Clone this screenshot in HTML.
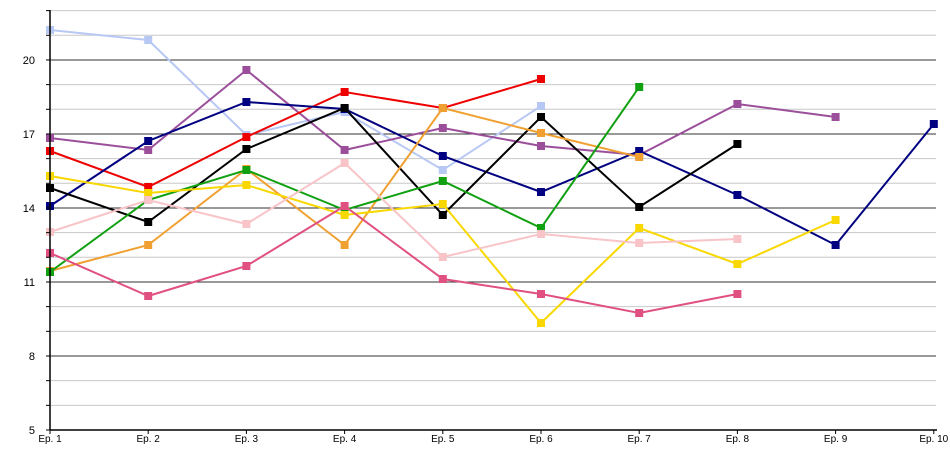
<!DOCTYPE html>
<html><head><meta charset="utf-8"><style>
html,body{margin:0;padding:0;background:#fff;}
svg{display:block;font-family:"Liberation Sans",sans-serif;}
</style></head><body>
<svg width="950" height="450" viewBox="0 0 950 450" xmlns="http://www.w3.org/2000/svg">
<g id="grid"></g>
<g id="series"></g>
<g id="axes"></g>
<script>
(function(){
var NS="http://www.w3.org/2000/svg";
function el(p,t,a,txt){var e=document.createElementNS(NS,t);for(var k in a)e.setAttribute(k,a[k]);if(txt!==undefined)e.textContent=txt;document.getElementById(p).appendChild(e);return e;}
var X0=50,DX=98.2,Y0=430,DY=24.67;
for(var k=0;k<=17;k++){var y=Y0-k*DY;if(y<9)break;var maj=(k%3==0);
 if(k>0)el("grid","line",{x1:50,x2:936,y1:y,y2:y,stroke:maj?"#333":"#c8c8c8","stroke-width":1});
 el("axes","line",{x1:46,x2:50,y1:y,y2:y,stroke:"#000"});
 if(maj)el("axes","text",{x:35,y:y+4,"font-size":"11","text-anchor":"end",fill:"#000"},String(5+k));}
el("axes","line",{x1:50,x2:50,y1:10,y2:430,stroke:"#000","stroke-width":1.5});
el("axes","line",{x1:50,x2:937,y1:430,y2:430,stroke:"#000","stroke-width":1.5});
for(var i=0;i<10;i++){var x=X0+i*DX;el("axes","line",{x1:x,x2:x,y1:430,y2:434,stroke:"#000"});
 el("axes","text",{x:x,y:442,"font-size":"10","text-anchor":"middle",fill:"#000"},"Ep. "+(i+1));}
var S=[
["#b8c8f4",[30,40,135,112,170,106]],
["#9b4f9b",[138,150,70,150,128,146,155,104,117]],
["#ee0000",[151,187,137,92,108,79]],
["#000080",[206,141,102,109,156,192,151,195,245,124]],
["#000000",[188,222,149,108,215,117,207,144]],
["#f0a030",[271,245,169,245,108,133,157]],
["#10a010",[272,200,170,210,181,228,87]],
["#f8d800",[176,193,185,215,204,323,228,264,220]],
["#f8c4c8",[232,200,224,163,257,234,243,239]],
["#e05080",[253,296,266,206,279,294,313,294]]
];
S.forEach(function(s){var pts=s[1].map(function(y,i){return (X0+i*DX)+","+y;}).join(" ");
 el("series","polyline",{points:pts,fill:"none",stroke:s[0],"stroke-width":2});
 s[1].forEach(function(y,i){el("series","rect",{x:X0+i*DX-4,y:y-4,width:8,height:8,fill:s[0]});});});
})();
</script>
</svg>
</body></html>
